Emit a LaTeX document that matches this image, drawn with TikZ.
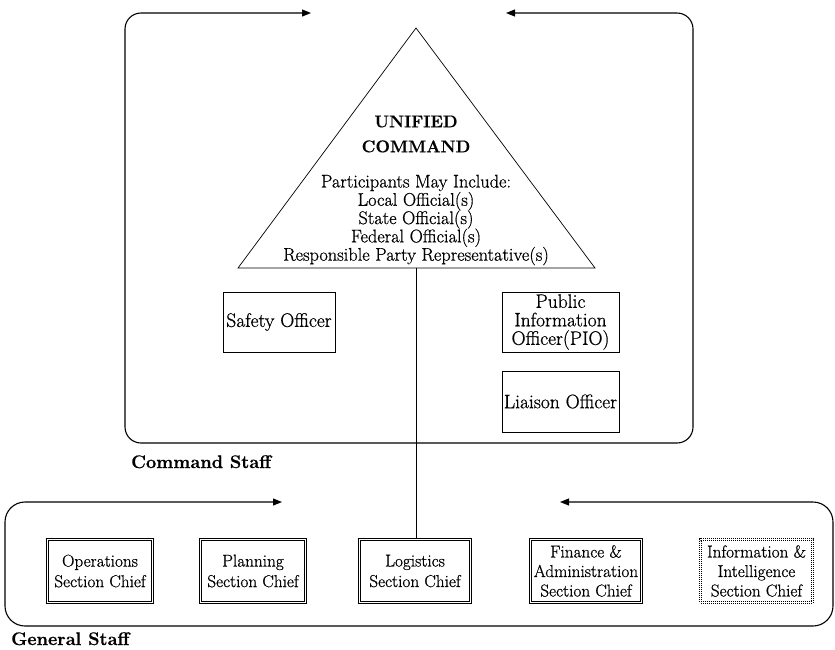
\documentclass[tikz,border=0pt]{standalone}
\usepackage{fontspec}
\setmainfont{Latin Modern Roman}[FakeBold=0.7]
\usetikzlibrary{arrows.meta}
\newcommand\setfs[2]{\fontsize{#1}{#2}\selectfont}
\begin{document}
\begin{tikzpicture}[x=1pt,y=-1pt,
  frameline/.style={line width=1.1pt, rounded corners=16pt, {Triangle[length=9pt,width=7pt]}-{Triangle[length=9pt,width=7pt]}},
  officebox/.style={draw, line width=0.9pt, inner sep=1pt, align=center, font=\setfs{19.5}{18.5}},
  chiefbox/.style={draw, double, double distance=1.6pt, line width=0.7pt, inner sep=1pt,
                   minimum height=63pt, align=center, font=\setfs{17.2}{20.5}},
  intelbox/.style={chiefbox, line width=1pt, double distance=1pt, dash pattern=on 1pt off 1pt},
  grouplabel/.style={anchor=base west, inner sep=0pt, font=\setfs{18.2}{18}\bfseries},
  thinline/.style={line width=0.7pt}
]
\useasboundingbox (0,0) rectangle (835,649);

% Command staff frame with its two inward arrows
\coordinate (ctL) at (311,13);
\coordinate (ctR) at (506,13);
\draw[frameline] (ctR) -- (693,13) -- (693,443) -- (125,443) -- (125,13) -- (ctL);

% General staff frame
\coordinate (gtL) at (282,502);
\coordinate (gtR) at (560,502);
\draw[frameline, rounded corners=20pt] (gtR) -- (833,502) -- (833,626) -- (5,626) -- (5,502) -- (gtL);

% Unified command triangle
\coordinate (apex) at (416,28);
\coordinate (baseL) at (238,268);
\coordinate (baseR) at (595,268);
\coordinate (ucbase) at (416,268);
\draw[thinline] (apex) -- (baseR) -- (baseL) -- cycle;

\node[align=center, inner sep=0pt, font=\setfs{17}{25}\bfseries] (uctitle) at (416,134) {UNIFIED\\COMMAND};
\node[align=center, inner sep=0pt, font=\setfs{18.3}{18.3}\selectfont] (ucpart) at (416,220)
  {Participants May Include:\\Local Official(s)\\State Official(s)\\Federal Official(s)\\Responsible Party Representative(s)};

% Command staff officers
\node[officebox, minimum width=112pt, minimum height=60pt] (safety) at (279,322) {Safety Officer};
\node[officebox, minimum width=117pt, minimum height=60pt] (pio) at (560.5,322) {Public\\Information\\Officer(PIO)};
\node[officebox, minimum width=117pt, minimum height=61pt] (liaison) at (560.5,401.5) {Liaison Officer};

\node[grouplabel] (cslabel) at (131,468) {Command Staff};

% General staff section chiefs
\node[chiefbox, minimum width=105pt] (ops) at (100,571) {Operations\\Section Chief};
\node[chiefbox, minimum width=105pt] (plan) at (253,571) {Planning\\Section Chief};
\node[chiefbox, minimum width=111pt] (logi) at (415,571) {Logistics\\Section Chief};
\node[chiefbox, minimum width=111pt, font=\setfs{17.2}{19.5}] (fin) at (586,571) {Finance \&\\Administration\\Section Chief};
\node[intelbox, minimum width=112pt, font=\setfs{17.2}{19.5}] (intel) at (756.5,571) {Information \&\\Intelligence\\Section Chief};

\node[grouplabel] (gslabel) at (11,645) {General Staff};

% Line of command from the unified command to the section chiefs
\draw[thinline] (ucbase) -- (ucbase |- logi.north);
\end{tikzpicture}
\end{document}
